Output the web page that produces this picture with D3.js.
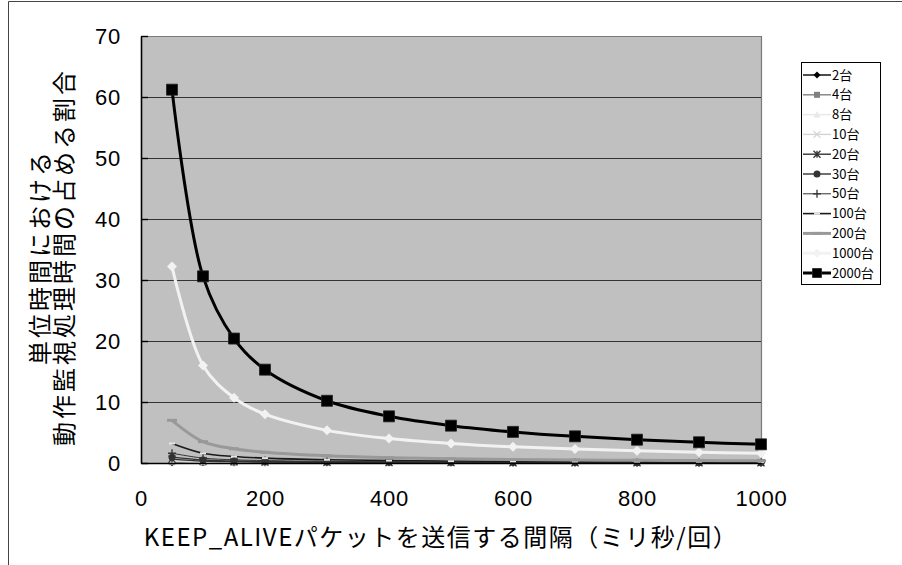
<!DOCTYPE html>
<html>
<head>
<meta charset="utf-8">
<script src="https://cdn.jsdelivr.net/npm/d3@7"></script>
<style>
  html, body { margin: 0; padding: 0; background: #fff; }
  svg { display: block; }
</style>
</head>
<body>
<svg id="chart" width="902" height="565"></svg>
<script>
// Interval between KEEP_ALIVE packets (ms per packet)
const intervals = [50, 100, 150, 200, 300, 400, 500, 600, 700, 800, 900, 1000];

// Number of monitored units per series
const seriesNames = ["2台", "4台", "8台", "10台", "20台", "30台", "50台", "100台", "200台", "1000台", "2000台"];

// Share of unit time spent on monitoring (%)
const s2    = [0.06, 0.03, 0.02, 0.02, 0.01, 0.01, 0.01, 0.01, 0.01, 0.01, 0.01, 0.01];
const s4    = [0.13, 0.06, 0.04, 0.03, 0.02, 0.02, 0.01, 0.01, 0.01, 0.01, 0.01, 0.01];
const s8    = [0.26, 0.13, 0.09, 0.06, 0.04, 0.03, 0.03, 0.02, 0.02, 0.02, 0.01, 0.01];
const s10   = [0.32, 0.16, 0.11, 0.08, 0.05, 0.04, 0.03, 0.03, 0.02, 0.02, 0.02, 0.02];
const s20   = [0.64, 0.32, 0.21, 0.16, 0.11, 0.08, 0.06, 0.05, 0.05, 0.04, 0.04, 0.03];
const s30   = [0.96, 0.48, 0.32, 0.24, 0.16, 0.12, 0.10, 0.08, 0.07, 0.06, 0.05, 0.05];
const s50   = [1.6, 0.8, 0.53, 0.4, 0.27, 0.2, 0.16, 0.13, 0.11, 0.1, 0.09, 0.08];
const s100  = [3.2, 1.6, 1.07, 0.8, 0.53, 0.4, 0.32, 0.27, 0.23, 0.2, 0.18, 0.16];
const s200  = [7.0, 3.5, 2.33, 1.75, 1.17, 0.88, 0.7, 0.58, 0.5, 0.44, 0.39, 0.35];
const s1000 = [32.2, 16.0, 10.7, 8.0, 5.35, 4.0, 3.2, 2.65, 2.28, 2.0, 1.77, 1.6];
const s2000 = [61.2, 30.6, 20.4, 15.3, 10.2, 7.65, 6.12, 5.1, 4.37, 3.82, 3.4, 3.06];

const seriesValues = [s2, s4, s8, s10, s20, s30, s50, s100, s200, s1000, s2000];

const yTicks = [0, 10, 20, 30, 40, 50, 60, 70];
const xTicks = [0, 200, 400, 600, 800, 1000];

const yTitleLines = ["単位時間における", "動作監視処理時間の占める割合"];
const xTitle = "KEEP_ALIVEパケットを送信する間隔（ミリ秒/回）";

// Line and marker appearance per series (grayscale office palette)
const styles = [
  { line: "#000000", width: 1.4, marker: "diamond",  size: 7,  fill: "#000000" },
  { line: "#808080", width: 1.4, marker: "square",   size: 6,  fill: "#808080" },
  { line: "#e8e8e8", width: 1.4, marker: "triangle", size: 7,  fill: "#e8e8e8" },
  { line: "#d4d4d4", width: 1.4, marker: "times",    size: 7,  fill: "#d4d4d4" },
  { line: "#333333", width: 1.4, marker: "asterisk", size: 7,  fill: "#333333" },
  { line: "#333333", width: 1.4, marker: "circle",   size: 7,  fill: "#333333" },
  { line: "#333333", width: 1.0, marker: "plus",     size: 8,  fill: "#333333" },
  { line: "#1a1a1a", width: 1.6, marker: "gap",      size: 6,  fill: "#e6e6e6" },
  { line: "#999999", width: 3.0, marker: "dash",     size: 10, fill: "#999999" },
  { line: "#f2f2f2", width: 3.0, marker: "diamond",  size: 10, fill: "#f2f2f2" },
  { line: "#000000", width: 3.0, marker: "square",   size: 11, fill: "#000000" }
];

const svg = d3.select("#chart");
const W = 902, H = 565;
const plot = { left: 141, right: 761, top: 36, bottom: 463 };

const x = d3.scaleLinear().domain([0, 1000]).range([plot.left, plot.right]);
const y = d3.scaleLinear().domain([0, 70]).range([plot.bottom, plot.top]);

const numFont = "'Liberation Sans', Arial, sans-serif";
const jpFont = "'Noto Sans CJK JP', 'Noto Sans', sans-serif";

// Outer chart frame
svg.append("path")
  .attr("d", `M8.5,${H} V1.5 H${W}`)
  .attr("fill", "none")
  .attr("stroke", "#444")
  .attr("stroke-width", 1);

// Plot area background
svg.append("rect")
  .attr("x", plot.left).attr("y", plot.top)
  .attr("width", plot.right - plot.left)
  .attr("height", plot.bottom - plot.top)
  .attr("fill", "#c0c0c0");

// Top and right borders of the plot area
svg.append("path")
  .attr("d", `M${plot.left},${plot.top + 0.5} H${plot.right + 0.5} V${plot.bottom}`)
  .attr("fill", "none")
  .attr("stroke", "#7a7a7a")
  .attr("stroke-width", 1.2);

// Horizontal gridlines
const grid = svg.append("g")
  .attr("transform", `translate(${plot.left},0)`)
  .call(d3.axisLeft(y).tickValues(yTicks.filter(v => v > 0 && v < 70))
    .tickSize(-(plot.right - plot.left)).tickFormat(""));
grid.select(".domain").remove();
grid.selectAll(".tick line").attr("stroke", "#333").attr("stroke-width", 1.2);

// Y axis: inner tick marks and labels
const yAxis = svg.append("g")
  .attr("transform", `translate(${plot.left},0)`)
  .call(d3.axisLeft(y).tickValues(yTicks).tickSize(0).tickPadding(20).tickFormat(d3.format("d")));
yAxis.select(".domain").attr("stroke", "#000").attr("stroke-width", 1.6);
yAxis.selectAll(".tick text")
  .attr("font-family", numFont)
  .attr("font-size", 22)
  .attr("letter-spacing", 0.8)
  .attr("fill", "#000");
yAxis.selectAll(".tick").append("line")
  .attr("x1", 0).attr("x2", 7)
  .attr("stroke", "#000").attr("stroke-width", 1.4);

// Series lines
const line = d3.line()
  .x((d, i) => x(intervals[i]))
  .y(d => y(d))
  .curve(d3.curveCatmullRom.alpha(0.5));

function markerPath(kind, s) {
  const h = s / 2;
  switch (kind) {
    case "diamond":  return `M0,${-h}L${h},0L0,${h}L${-h},0Z`;
    case "square":   return `M${-h},${-h}H${h}V${h}H${-h}Z`;
    case "triangle": return `M0,${-h}L${h},${h * 0.8}H${-h}Z`;
    case "times":    return `M${-h},${-h}L${h},${h}M${-h},${h}L${h},${-h}`;
    case "asterisk": return `M${-h},${-h}L${h},${h}M${-h},${h}L${h},${-h}M0,${-h}V${h}`;
    case "plus":     return `M${-h},0H${h}M0,${-h}V${h}`;
    case "circle":   return d3.symbol(d3.symbolCircle, Math.PI * h * h)();
    case "gap":      return `M${-h},-1H${h}V1H${-h}Z`;
    case "dash":     return `M${-h},-1.5H${h}V1.5H${-h}Z`;
  }
  return "";
}
const strokeMarkers = new Set(["times", "asterisk", "plus"]);

function drawMarker(g, st) {
  const p = g.append("path").attr("d", markerPath(st.marker, st.size));
  if (strokeMarkers.has(st.marker)) {
    p.attr("fill", "none").attr("stroke", st.fill).attr("stroke-width", 1.3);
  } else {
    p.attr("fill", st.fill).attr("stroke", st.marker === "square" && st.size > 8 ? "#222" : "none")
      .attr("stroke-width", 0.8);
  }
}

const seriesLayer = svg.append("g");
seriesValues.forEach((vals, k) => {
  const st = styles[k];
  const g = seriesLayer.append("g");
  g.append("path")
    .attr("d", line(vals))
    .attr("fill", "none")
    .attr("stroke", st.line)
    .attr("stroke-width", st.width)
    .attr("stroke-linejoin", "round");
  vals.forEach((v, i) => {
    drawMarker(g.append("g").attr("transform", `translate(${x(intervals[i])},${y(v)})`), st);
  });
});

// Bottom axis line and labels
const xAxis = svg.append("g")
  .attr("transform", `translate(0,${plot.bottom})`)
  .call(d3.axisBottom(x).tickValues(xTicks).tickSize(0).tickPadding(27).tickFormat(d3.format("d")));
xAxis.select(".domain").attr("stroke", "#000").attr("stroke-width", 1.6);
xAxis.selectAll(".tick text")
  .attr("font-family", numFont)
  .attr("font-size", 22)
  .attr("letter-spacing", 0.8)
  .attr("fill", "#000");

// Axis titles
svg.append("text")
  .attr("x", 441).attr("y", 546)
  .attr("text-anchor", "middle")
  .attr("font-family", jpFont)
  .attr("font-size", 24)
  .attr("letter-spacing", 1.5)
  .attr("fill", "#000")
  .text(xTitle);

const yTitle = svg.append("text")
  .attr("transform", "translate(0,257) rotate(-90)")
  .attr("text-anchor", "middle")
  .attr("font-family", jpFont)
  .attr("font-size", 24)
  .attr("letter-spacing", 3)
  .attr("fill", "#000");
yTitle.append("tspan").attr("x", 0).attr("y", 49).text(yTitleLines[0]);
yTitle.append("tspan").attr("x", 0).attr("y", 73).text(yTitleLines[1]);

// Legend
const legend = svg.append("g");
legend.append("rect")
  .attr("x", 801.5).attr("y", 62.5)
  .attr("width", 79).attr("height", 222)
  .attr("fill", "#fff")
  .attr("stroke", "#000")
  .attr("stroke-width", 1);

seriesNames.forEach((name, k) => {
  const st = styles[k];
  const cy = 75 + k * 19.8;
  const row = legend.append("g").attr("transform", `translate(0,${cy})`);
  row.append("line")
    .attr("x1", 803).attr("x2", 831)
    .attr("stroke", st.line)
    .attr("stroke-width", st.width);
  const ms = Object.assign({}, st, { size: Math.min(st.size, 9) });
  drawMarker(row.append("g").attr("transform", "translate(817,0)"), ms);
  row.append("text")
    .attr("x", 832).attr("y", 0)
    .attr("dy", "0.36em")
    .attr("font-family", jpFont)
    .attr("font-size", 13)
    .attr("fill", "#000")
    .text(name);
});
</script>
</body>
</html>
